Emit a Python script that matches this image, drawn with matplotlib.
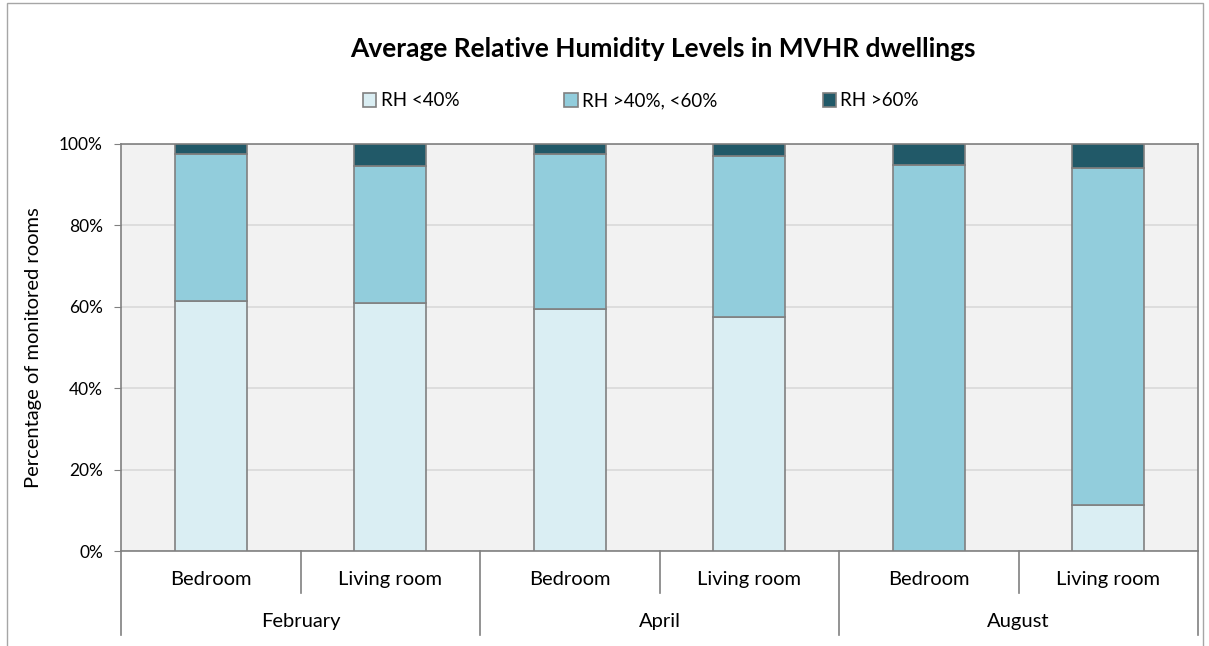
import matplotlib.pyplot as plt
from matplotlib.patches import Patch, Rectangle
import numpy as np

plt.rcParams['font.family'] = ['Lato', 'DejaVu Sans']

rooms = ["Bedroom", "Living room", "Bedroom", "Living room", "Bedroom", "Living room"]
months = ["February", "April", "August"]
series = ["RH <40%", "RH >40%, <60%", "RH >60%"]
rh_low = [61.4, 60.9, 59.4, 57.5, 0.0, 11.3]
rh_mid = [36.1, 33.6, 38.1, 39.5, 94.8, 82.8]
rh_high = [2.5, 5.5, 2.5, 3.0, 5.2, 5.9]
colores = ["#DAEEF3", "#92CDDC", "#215968"]
gris = "#808080"

fig = plt.figure(figsize=(12.09, 6.46), dpi=100)
ax = fig.add_axes([121/1209, 1 - 551/646, 1077/1209, 407/646])
ax.set_facecolor("#F2F2F2")

x = np.arange(len(rooms))
abajo = np.zeros(len(rooms))
for vals, col, nom in zip([rh_low, rh_mid, rh_high], colores, series):
    ax.bar(x, vals, width=0.4, bottom=abajo, color=col, edgecolor=gris,
           linewidth=1.2, label=nom, zorder=3)
    abajo += np.array(vals)

ax.set_xlim(-0.5, len(rooms) - 0.5)
ax.set_ylim(0, 100)
ax.set_yticks(range(0, 101, 20))
ax.set_yticklabels([f"{v}%" for v in range(0, 101, 20)], fontsize=12.5)
ax.yaxis.grid(True, color="#D9D9D9", linewidth=1.2, zorder=0)
ax.tick_params(axis="y", direction="out", length=5, color=gris, pad=8)
ax.set_ylabel("Percentage of monitored rooms", fontsize=14.5, labelpad=12)
for s in ax.spines.values():
    s.set_color(gris)
    s.set_linewidth(1.2)

# eje x de dos niveles (habitacion / mes)
ax.set_xticks([])
for i, r in enumerate(rooms):
    ax.text(i, -0.069, r, transform=ax.get_xaxis_transform(), ha="center",
            va="center", fontsize=14.5)
for k, m in enumerate(months):
    ax.text(2 * k + 0.5, -0.172, m, transform=ax.get_xaxis_transform(),
            ha="center", va="center", fontsize=14.5)
for b in np.arange(-0.5, len(rooms), 1.0):
    fondo = -0.206 if int(b + 0.5) % 2 == 0 else -0.103
    ax.plot([b, b], [0, fondo], transform=ax.get_xaxis_transform(),
            color=gris, linewidth=1.2, clip_on=False)

fig.text(663/1209, 1 - 49/646, "Average Relative Humidity Levels in MVHR dwellings",
         ha="center", va="center", fontsize=19, fontweight="bold")

manijas = [Patch(facecolor=c, edgecolor=gris, linewidth=1.2) for c in colores]
fig.legend(manijas, series, loc="center", bbox_to_anchor=(641/1209, 1 - 101/646),
           ncol=3, frameon=False, fontsize=13.5, handlelength=0.7,
           handleheight=0.7, handletextpad=0.25, columnspacing=5.6)

fig.patches.append(Rectangle((7/1209, -0.01), 1196/1209, 1.005,
                             transform=fig.transFigure, fill=False,
                             edgecolor="#A6A6A6", linewidth=1.0))

fig.savefig("out.png", dpi=100)
